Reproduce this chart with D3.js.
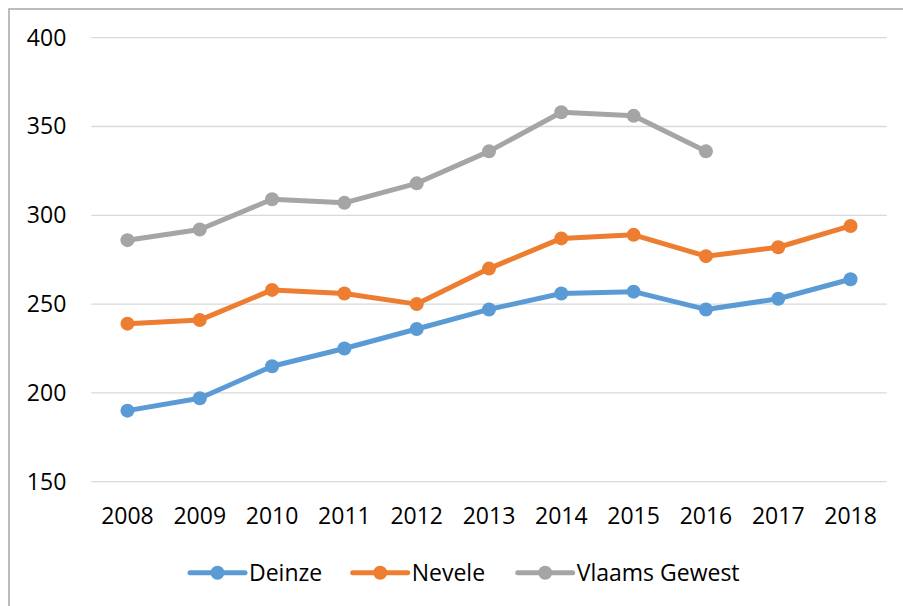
<!DOCTYPE html>
<html>
<head>
<meta charset="utf-8">
<script src="https://cdn.jsdelivr.net/npm/d3@7"></script>
<style>
  html, body { margin: 0; padding: 0; background: #fff; }
  svg { display: block; font-family: "Open Sans", "Liberation Sans", sans-serif; }
</style>
</head>
<body>
<svg id="chart" width="903" height="606"></svg>
<script>
// --- data ---
const years = ['2008', '2009', '2010', '2011', '2012', '2013', '2014', '2015', '2016', '2017', '2018'];
const deinze = [190, 197, 215, 225, 236, 247, 256, 257, 247, 253, 264];
const nevele = [239, 241, 258, 256, 250, 270, 287, 289, 277, 282, 294];
const vlaams = [286, 292, 309, 307, 318, 336, 358, 356, 336, null, null];
const seriesNames = ['Deinze', 'Nevele', 'Vlaams Gewest'];
const yTicks = [150, 200, 250, 300, 350, 400];

const colors = ['#5B9BD5', '#ED7D31', '#A5A5A5'];
const series = [deinze, nevele, vlaams].map((vals, i) => ({ name: seriesNames[i], color: colors[i], values: vals }));

const fontSize = 23;
const svg = d3.select('#chart');

// outer frame (cropped at right/bottom as in the original)
svg.append('rect')
  .attr('x', 9).attr('y', 9).attr('width', 910).attr('height', 620)
  .attr('fill', 'none').attr('stroke', '#a6a6a6').attr('stroke-width', 1.5);

const plot = { left: 91.3, right: 886.7, top: 37.7, bottom: 481.7 };

const x = d3.scaleBand().domain(years).range([plot.left, plot.right]);
const y = d3.scaleLinear().domain([150, 400]).range([plot.bottom, plot.top]);

// gridlines
svg.append('g').selectAll('line').data(yTicks).join('line')
  .attr('x1', plot.left).attr('x2', plot.right)
  .attr('y1', d => y(d)).attr('y2', d => y(d))
  .attr('stroke', '#d9d9d9').attr('stroke-width', 1.3);

// y axis labels
const yAxis = svg.append('g')
  .attr('transform', `translate(${plot.left},0)`)
  .call(d3.axisLeft(y).tickValues(yTicks).tickSize(0).tickPadding(25));
yAxis.select('.domain').remove();
yAxis.selectAll('text')
  .attr('font-family', '"Open Sans", "Liberation Sans", sans-serif')
  .attr('font-size', fontSize).attr('fill', '#000');

// x axis labels
const xAxis = svg.append('g')
  .attr('transform', `translate(0,${plot.bottom})`)
  .call(d3.axisBottom(x).tickSize(0).tickPadding(26));
xAxis.select('.domain').remove();
xAxis.selectAll('text')
  .attr('font-family', '"Open Sans", "Liberation Sans", sans-serif')
  .attr('font-size', fontSize).attr('fill', '#000');

const cx = d => x(d) + x.bandwidth() / 2;

const line = d3.line()
  .defined(d => d.v != null)
  .x(d => cx(d.year))
  .y(d => y(d.v));

const g = svg.append('g').selectAll('g').data(series).join('g');

g.append('path')
  .attr('d', s => line(s.values.map((v, i) => ({ year: years[i], v }))))
  .attr('fill', 'none')
  .attr('stroke', s => s.color)
  .attr('stroke-width', 5)
  .attr('stroke-linejoin', 'round');

g.each(function (s) {
  d3.select(this).selectAll('circle')
    .data(s.values.map((v, i) => ({ year: years[i], v })).filter(d => d.v != null))
    .join('circle')
    .attr('cx', d => cx(d.year))
    .attr('cy', d => y(d.v))
    .attr('r', 7)
    .attr('fill', s.color);
});

// legend
const legendX = [190, 352.7, 517.7];
const legendY = 572.7;
const lg = svg.append('g').selectAll('g').data(series).join('g')
  .attr('transform', (s, i) => `translate(${legendX[i]},${legendY})`);
lg.append('line')
  .attr('x1', 0).attr('x2', 55).attr('y1', 0).attr('y2', 0)
  .attr('stroke', s => s.color).attr('stroke-width', 5).attr('stroke-linecap', 'round');
lg.append('circle')
  .attr('cx', 27.5).attr('cy', 0).attr('r', 7).attr('fill', s => s.color);
lg.append('text')
  .attr('x', 59).attr('y', 0).attr('dy', '0.35em')
  .attr('font-size', fontSize).attr('fill', '#000')
  .text(s => s.name);
</script>
</body>
</html>
